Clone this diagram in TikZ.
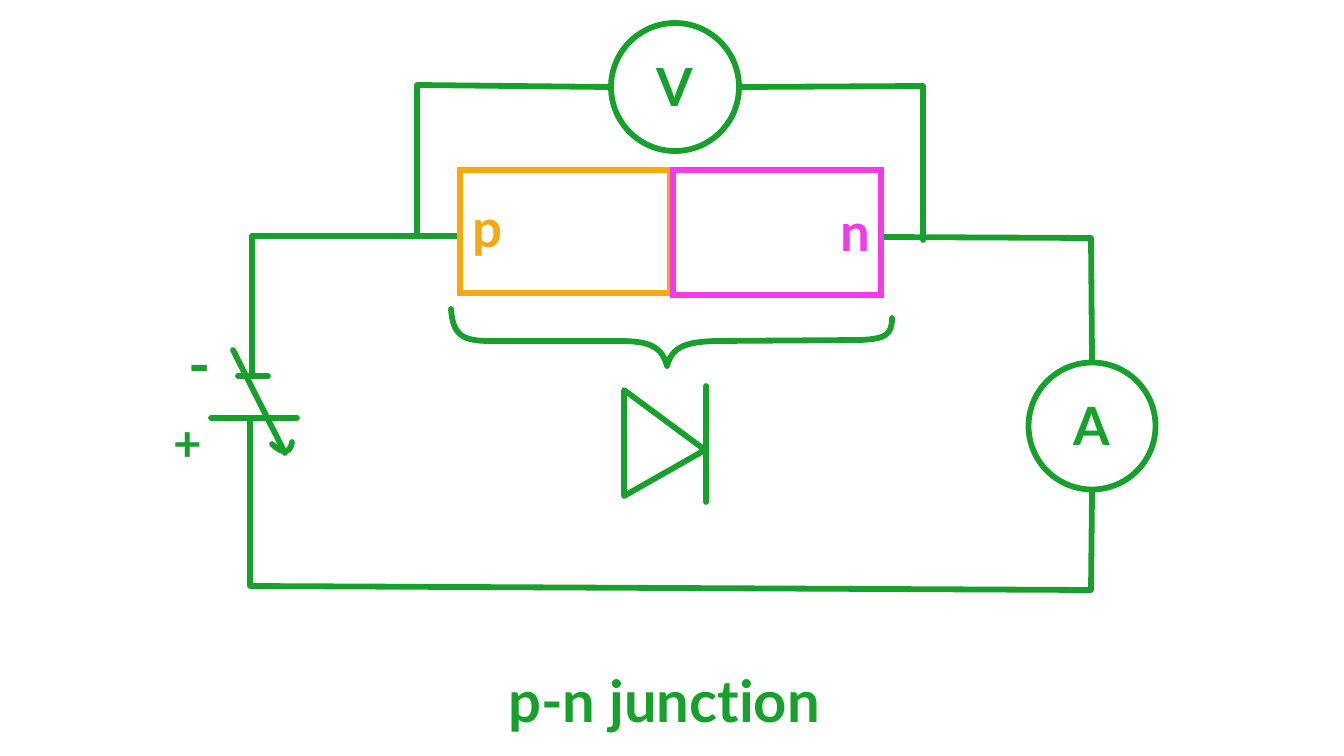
\documentclass[tikz,border=0pt]{standalone}
\usepackage{fontspec}
\setmainfont[Ligatures=NoCommon]{Lato}
\usepackage{xcolor}
\definecolor{wiregreen}{HTML}{18A02C}
\definecolor{porange}{HTML}{F7A90F}
\definecolor{nmagenta}{HTML}{F43CE6}
\tikzset{
  wire/.style={draw=wiregreen,line width=3.3pt,line join=round,line cap=round},
  meter/.style={circle,draw=wiregreen,line width=3.3pt,inner sep=0pt,text=wiregreen,font=\fontsize{30}{30}\selectfont\bfseries},
  slab/.style={line width=3.3pt,line join=miter}
}
\begin{document}
\begin{tikzpicture}[x=0.02cm,y=-0.02cm,>=latex]
  \useasboundingbox (0,0) rectangle (1344,756);
  % meters
  \node[meter,minimum size=2.56cm] (V) at (675,87) {V};
  \node[meter,minimum size=2.54cm] (A) at (1092,426) {A};
  % corners of the circuit
  \coordinate (tl) at (252,236);
  \coordinate (pin) at (460,236);
  \coordinate (nout) at (882,237);
  \coordinate (tr) at (1091,238);
  \coordinate (br) at (1091,590);
  \coordinate (bl) at (250,586);
  \coordinate (negtop) at (252,376);
  \coordinate (posbot) at (250,418);
  \coordinate (vl) at (417,236);
  \coordinate (vr) at (923,240);
  % outer loop
  \draw[wire] (negtop) -- (tl) -- (pin);
  \draw[wire] (nout) -- (tr) -- (A.north);
  \draw[wire] (A.south) -- (br) -- (bl) -- (posbot);
  % voltmeter branch
  \draw[wire] (vl) -- (417,85) -- (V.west);
  \draw[wire] (V.east) -- (923,86) -- (vr);
  % the two slabs
  \draw[slab,porange] (460,170) rectangle (670,293);
  \draw[slab,nmagenta] (673,170) rectangle (881,295);
  \node[text=porange,font=\fontsize{30}{30}\selectfont\bfseries] (plabel) at (487,238) {p};
  \node[text=nmagenta,font=\fontsize{30}{30}\selectfont\bfseries] (nlabel) at (855,238) {n};
  % brace
  \draw[wire] (451,309) .. controls (453,335) and (462,341) .. (490,341)
    -- (620,341) .. controls (650,341) and (662,347) .. (667,366)
    .. controls (672,347) and (685,342) .. (715,341) -- (860,340)
    .. controls (885,339) and (892,335) .. (892,318);
  % diode
  \draw[wire] (624,390) -- (705,450) -- (624,496) -- cycle;
  \draw[wire] (706,386) -- (706,502);
  % battery
  \draw[wire] (238,376) -- (268,376);
  \draw[wire] (211,418) -- (297,418);
  \draw[wire] (233,350) -- (285,453);
  \draw[wire] (272,444) .. controls (280,452) and (290,456) .. (292,442);
  \node[text=wiregreen,font=\fontsize{34}{34}\selectfont\bfseries] (minus) at (200,376) {-};
  \node[text=wiregreen,font=\fontsize{28}{28}\selectfont\bfseries] (plus) at (188,447) {+};
  % title
  \node[text=wiregreen,font=\fontsize{33}{33}\selectfont\bfseries] (title) at (664,706) {p-n junction};
\end{tikzpicture}
\end{document}
